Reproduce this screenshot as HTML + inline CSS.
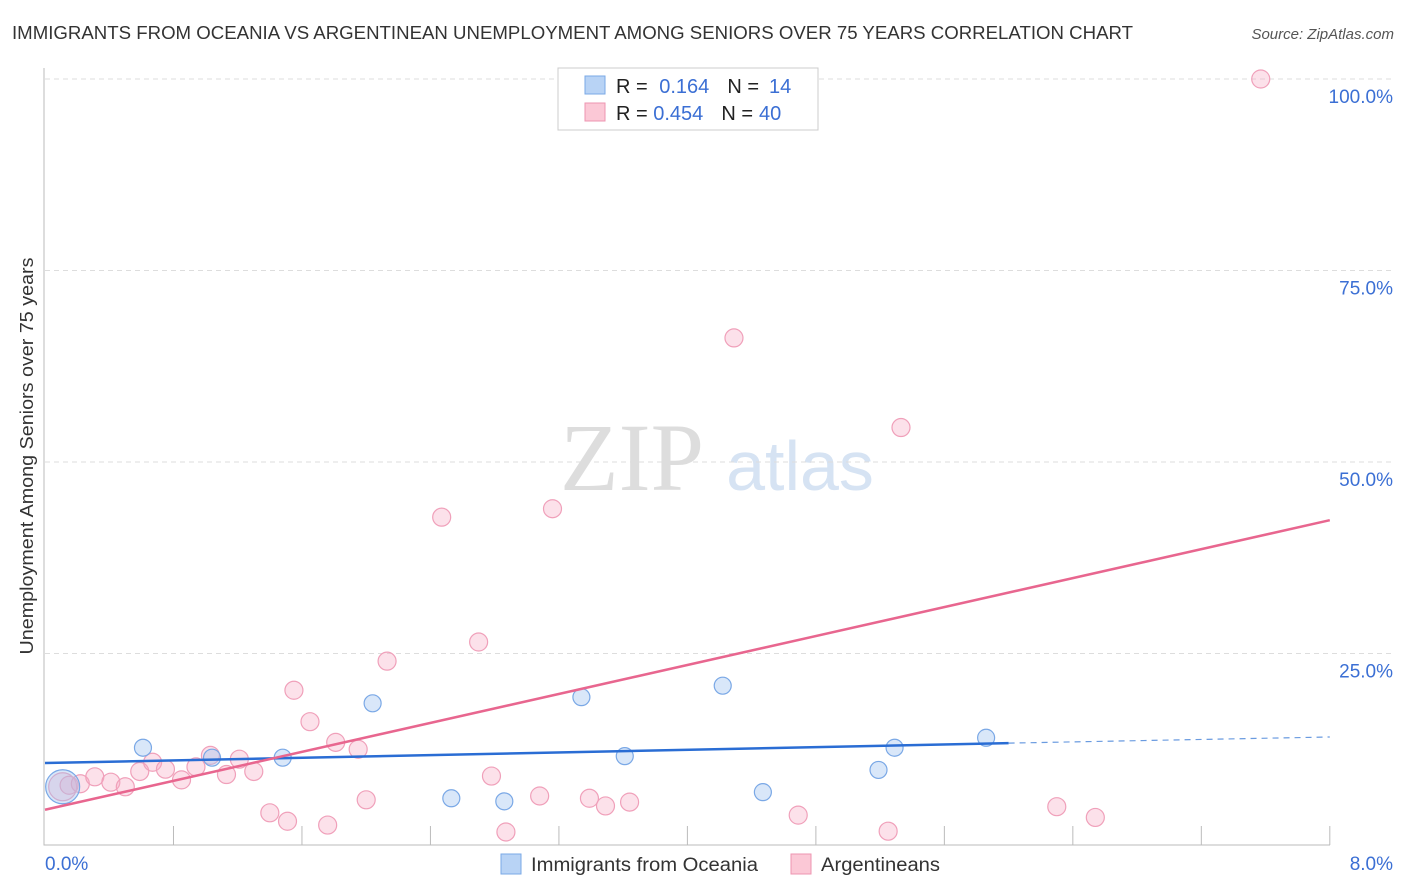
<!DOCTYPE html>
<html><head><meta charset="utf-8"><style>
body{margin:0;background:#fff;font-family:"Liberation Sans",sans-serif;}
svg{display:block}
</style></head><body>
<svg id="c" width="1406" height="892">
<text x="12" y="39" font-size="18" fill="#333" textLength="1121" lengthAdjust="spacingAndGlyphs">IMMIGRANTS FROM OCEANIA VS ARGENTINEAN UNEMPLOYMENT AMONG SENIORS OVER 75 YEARS CORRELATION CHART</text>
<text x="1394" y="39" font-size="15" fill="#555" font-style="italic" text-anchor="end">Source: ZipAtlas.com</text>
<text x="0" y="0" transform="translate(33,456) rotate(-90)" font-size="18" fill="#333" text-anchor="middle" textLength="397" lengthAdjust="spacingAndGlyphs">Unemployment Among Seniors over 75 years</text>
<text x="632" y="490" font-size="96" fill="#ddd" font-family="Liberation Serif,serif" text-anchor="middle">ZIP</text>
<text x="800" y="490" font-size="70" fill="#d6e3f3" text-anchor="middle">atlas</text>
<g id="grid"></g><g id="marks"></g>
<g>
<rect x="558" y="68" width="260" height="62" fill="#fff" stroke="#ccc"/>
<rect x="585" y="76" width="20" height="18" fill="#b8d3f5" stroke="#7aa8e6"/>
<rect x="585" y="103" width="20" height="18" fill="#fbc8d6" stroke="#ee95b0"/>
<text x="616" y="93" font-size="20" fill="#222">R = <tspan fill="#3b6fd4" dx="6">0.164</tspan><tspan dx="18">N =</tspan><tspan fill="#3b6fd4" dx="10">14</tspan></text>
<text x="616" y="120" font-size="20" fill="#222">R = <tspan fill="#3b6fd4">0.454</tspan><tspan dx="18">N =</tspan><tspan fill="#3b6fd4" dx="6">40</tspan></text>
</g>
<g>
<rect x="501" y="854" width="20" height="20" fill="#b8d3f5" stroke="#7aa8e6"/>
<text x="531" y="871" font-size="19" fill="#333" textLength="227" lengthAdjust="spacingAndGlyphs">Immigrants from Oceania</text>
<rect x="791" y="854" width="20" height="20" fill="#fbc8d6" stroke="#ee95b0"/>
<text x="821" y="871" font-size="19" fill="#333" textLength="119" lengthAdjust="spacingAndGlyphs">Argentineans</text>
</g>
</svg>
<script>
const yTicks=[25,50,75,100];
const xTickLabels=["0.0%","8.0%"];
const blueX=[0.11,0.61,1.04,1.48,2.04,2.53,2.86,3.34,3.61,4.22,4.47,5.19,5.29,5.86];
const blueY=[7.6,12.7,11.4,11.4,18.5,6.1,5.7,19.3,11.6,20.8,6.9,9.8,12.7,14.0];
const pinkX=[0.11,0.15,0.22,0.31,0.41,0.50,0.59,0.67,0.75,0.85,0.94,1.03,1.13,1.21,1.30,1.40,1.51,1.55,1.65,1.76,1.81,1.95,2.00,2.13,2.47,2.70,2.78,2.87,3.08,3.16,3.39,3.49,3.64,4.29,4.69,5.25,5.33,6.30,6.54,7.57];
const pinkY=[7.6,7.8,8.0,8.9,8.2,7.6,9.6,10.8,9.9,8.5,10.2,11.7,9.2,11.2,9.6,4.2,3.1,20.2,16.1,2.6,13.4,12.5,5.9,24.0,42.8,26.5,9.0,1.7,6.4,43.9,6.1,5.1,5.6,66.2,3.9,1.8,54.5,5.0,3.6,100];
const blueLine=[[0,10.7],[6.0,13.3],[8,14.1]];
const pinkLine=[[0,4.6],[8,42.4]];
const X=v=>45+v*160.6, Y=v=>845-v*7.66;
const ns="http://www.w3.org/2000/svg";
function mk(p,t,a){const e=document.createElementNS(ns,t);for(const k in a)e.setAttribute(k,a[k]);p.appendChild(e);return e;}
const g=document.getElementById('grid'), m=document.getElementById('marks');
yTicks.forEach(t=>{
 const l=mk(g,'line',{x1:45,x2:1395,y1:Y(t),y2:Y(t),stroke:'#ddd','stroke-dasharray':'5,4'});
 
 
 const tx=mk(g,'text',{x:1393,y:Y(t)+24,'font-size':19,fill:'#3b6fd4','text-anchor':'end'});tx.textContent=t.toFixed(1)+'%';
 
 
});
const ax=mk(g,'path',{d:'M44,68 V845 H1330',stroke:'#bbb',fill:'none'});


for(let i=1;i<=10;i++){const t=mk(g,'line',{x1:X(i*0.8),x2:X(i*0.8),y1:826,y2:845,stroke:'#bbb'});
 
 }
[[45,'start',0],[1393,'end',1]].forEach(([x,a,i])=>{const t=mk(g,'text',{x:x,y:870,'font-size':19,fill:'#3b6fd4','text-anchor':a});t.textContent=xTickLabels[i];
 
 });
pinkX.forEach((v,i)=>{const c=mk(m,'circle',{cx:X(v),cy:Y(pinkY[i]),r:i==0?14:9,fill:'rgba(247,170,195,0.35)',stroke:'#f0a0ba','stroke-width':1.2});
 
 });
blueX.forEach((v,i)=>{const c=mk(m,'circle',{cx:X(v),cy:Y(blueY[i]),r:i==0?17:8.5,fill:'rgba(160,195,240,0.4)',stroke:'#7aa8e6','stroke-width':1.2});
 
 });
const bl=mk(m,'line',{x1:X(blueLine[0][0]),y1:Y(blueLine[0][1]),x2:X(blueLine[1][0]),y2:Y(blueLine[1][1]),stroke:'#2a6dd4','stroke-width':2.5});


const bd=mk(m,'line',{x1:X(blueLine[1][0]),y1:Y(blueLine[1][1]),x2:X(blueLine[2][0]),y2:Y(blueLine[2][1]),stroke:'#6a9be0','stroke-width':1.2,'stroke-dasharray':'6,5'});


const pl=mk(m,'line',{x1:X(pinkLine[0][0]),y1:Y(pinkLine[0][1]),x2:X(pinkLine[1][0]),y2:Y(pinkLine[1][1]),stroke:'#e8668f','stroke-width':2.5});


</script>
</body></html>
